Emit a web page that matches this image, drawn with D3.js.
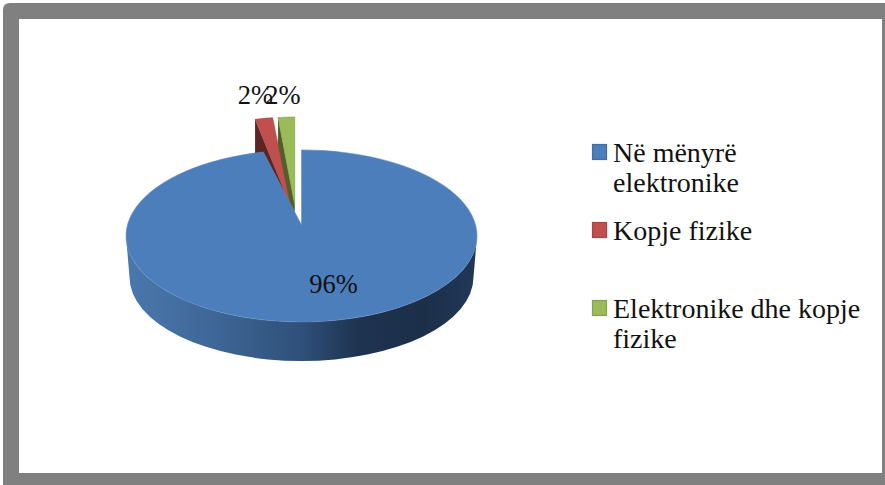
<!DOCTYPE html>
<html><head><meta charset="utf-8">
<script src="https://cdnjs.cloudflare.com/ajax/libs/d3/7.8.5/d3.min.js"></script>
<style>html,body{margin:0;padding:0;background:#fff}svg{display:block}text{font-family:"Liberation Serif",serif;fill:#111}</style>
</head><body><svg id="c" width="885" height="485"></svg>
<script>
const categories=["Në mënyrë elektronike","Kopje fizike","Elektronike dhe kopje fizike"];
const values=[96,2,2];
const valueLabels=["96%","2%","2%"];
const legendLines=[["Në mënyrë","elektronike"],["Kopje fizike"],["Elektronike dhe kopje","fizike"]];
const colors=["#4c7ebb","#c0504d","#9bbb59"];
const wallColors=["#2f4f78","#5c2422","#4f6029"];

const svg=d3.select("#c");
// frame
svg.append("path").attr("fill","#808080").attr("fill-rule","evenodd")
 .attr("d","M3,485V10Q3,3 10,3H885V485Z M19,19V473H882V19Z");

// pie geometry
const pie=d3.pie().sort(null).value(d=>d).startAngle(0).endAngle(2*Math.PI);
const arcs=pie(values);
const base={x:297,y:215,ex:36,ey:10};
const rx=175.5;
const shape=[{rx:175.5,ry:86,c:11},{rx:185,ry:116,c:28},{rx:175.5,ry:116,c:28}];
function apex(a){const m=(a.startAngle+a.endAngle)/2;return [base.x+base.ex*Math.sin(m),base.y-base.ey*Math.cos(m)];}
function rim(a,i,th){
  const p=apex(a),s=shape[i],k=s.c/s.ry,dx=Math.sin(th),dy=Math.cos(th),b=k*dy,t=-b+Math.sqrt(b*b-k*k+1);
  return [p[0]+s.rx*dx*t,p[1]+s.c-s.ry*(k+dy*t)];
}
function wedge(a,i){
  const n=Math.max(6,Math.round((a.endAngle-a.startAngle)*40));
  const th=d3.range(n+1).map(j=>a.startAngle+(a.endAngle-a.startAngle)*j/n);
  return [apex(a),...th.map(t=>rim(a,i,t))];
}
const line=d3.line().curve(d3.curveLinear);
const defs=svg.append("defs");
const g=defs.append("linearGradient").attr("id","side").attr("x1",0).attr("x2",1).attr("y1",0).attr("y2",0);
[[0,"#4a78ad"],[.22,"#40699a"],[.5,"#2f5079"],[.66,"#1e3350"],[.85,"#1c2f49"],[1,"#203858"]].forEach(d=>g.append("stop").attr("offset",d[0]).attr("stop-color",d[1]));

// far slices: green, then red, then blue
const wallDepth=33;
[2,1].forEach(i=>{
  const a=arcs[i],p=apex(a),l=rim(a,i,a.startAngle);
  svg.append("path").attr("fill",wallColors[i])
    .attr("d",line([l,[l[0],l[1]+wallDepth],[p[0],p[1]+wallDepth],p])+"Z");
  svg.append("path").attr("fill",colors[i]).attr("stroke",d3.color(colors[i]).darker(.5)).attr("stroke-width",.6)
    .attr("d",line(wedge(a,i))+"Z");
});
// blue side
const bc={x:301.5,y:236},bot={x:301.5,y:277,rx:172,ry:84};
svg.append("path").attr("fill","url(#side)")
 .attr("d",`M${bc.x-rx},${bc.y}A${rx},86 0 0 0 ${bc.x+rx},${bc.y}L${bot.x+bot.rx},${bot.y}A${bot.rx},${bot.ry} 0 0 1 ${bot.x-bot.rx},${bot.y}Z`);
// blue top
(function(){
  const a=arcs[0],p=apex(a),s=rim(a,0,a.startAngle),e=rim(a,0,a.endAngle);
  svg.append("path").attr("fill",colors[0]).attr("stroke","#5f8dc4").attr("stroke-width",.6)
   .attr("d",`M${p}L${s}A${rx},86 0 1 1 ${e}Z`);
})();

// value labels
const labelPos=[[333.5,293],[255.5,104],[283,104]];
valueLabels.forEach((t,i)=>svg.append("text").attr("x",labelPos[i][0]).attr("y",labelPos[i][1]).attr("text-anchor","middle").attr("font-size",26.5).text(t));

// legend
const legendTop=[144.5,222.5,300.5],lineH=30.5;
const legendY=d3.scaleOrdinal().domain(categories).range(legendTop);
categories.forEach((c,i)=>{
  const y=legendY(c);
  svg.append("rect").attr("x",592.5).attr("y",y).attr("width",14).attr("height",15)
    .attr("fill",colors[i]).attr("stroke",d3.color(colors[i]).darker(.4)).attr("stroke-width",1.2);
  legendLines[i].forEach((t,j)=>svg.append("text").attr("x",613).attr("y",y+17+j*lineH).attr("font-size",28).text(t));
});
</script></body></html>
